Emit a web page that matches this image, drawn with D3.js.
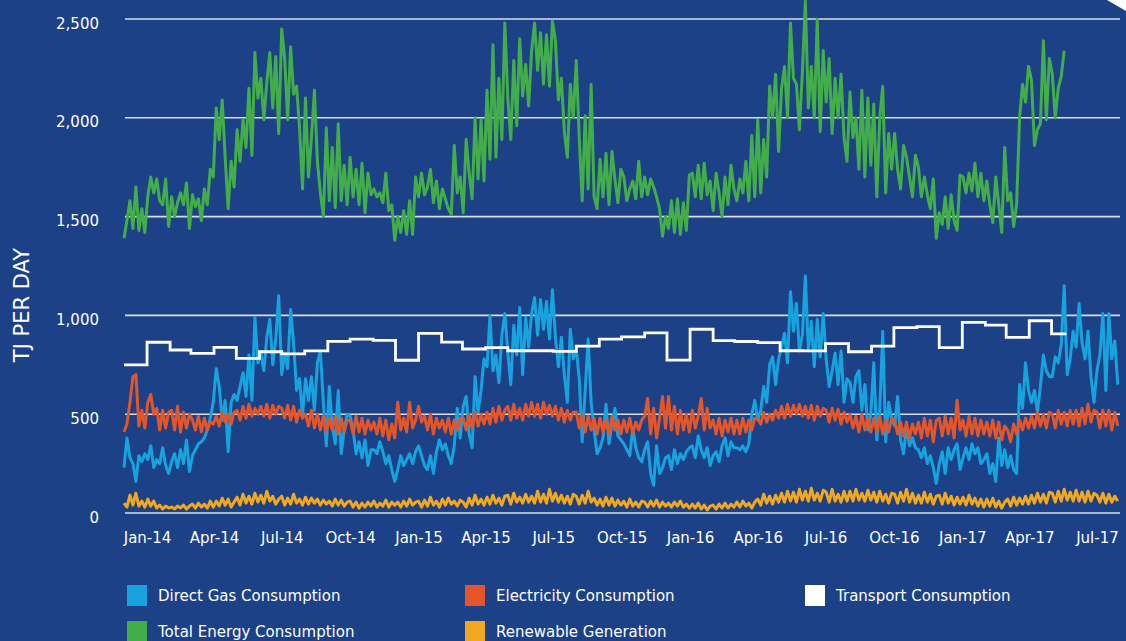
<!DOCTYPE html>
<html>
<head>
<meta charset="utf-8">
<script src="https://cdn.jsdelivr.net/npm/d3@7"></script>
<style>
  html, body { margin: 0; padding: 0; background: #1c4187; }
  svg { display: block; }
  text { font-family: "DejaVu Sans", Verdana, sans-serif; fill: #ffffff; }
</style>
</head>
<body>
<svg id="chart" width="1126" height="641"></svg>
<script>
// ---------------- DATA ----------------
// Daily series sampled every 4 days starting 1 Dec 2013 (TJ per day)
const seriesStart = "2013-12-01";
const stepDays = 4;

const totalEnergy = [
1390,1480,1580,1440,1650,1430,1540,1420,
1600,1700,1620,1690,1580,1560,1690,1450,
1600,1500,1570,1620,1560,1670,1440,
1610,1550,1590,1480,1640,1560,1740,1700,
2050,1890,2090,1800,1540,1780,1650,
1940,1780,1990,1850,2150,1810,2330,2100,
2200,1990,2180,2330,2050,2310,1920,
2450,2300,1990,2360,2120,2160,1950,1640,
2100,1700,1900,2140,1780,1620,1500,1950,
1580,1850,1545,1970,1580,1760,1560,
1800,1600,1740,1560,1770,1520,1720,1610,
1640,1600,1620,1570,1720,1530,1560,1380,
1500,1420,1530,1410,1580,1410,1700,
1600,1720,1610,1650,1740,1570,1680,1540,
1640,1590,1540,1510,1860,1620,1700,
1520,1890,1720,1590,2000,1690,1990,1680,
2140,1790,2370,1800,2200,1890,2480,
2100,1890,2290,1960,2400,2110,2270,2060,
2340,2480,2240,2430,2170,2420,2160,2490,
2390,2090,2200,1930,1800,2170,2000,
2290,1900,1580,2010,1640,2170,1600,1540,
1790,1600,1820,1560,1830,1690,1570,1740,
1700,1580,1640,1680,1590,1780,1600,
1700,1610,1690,1650,1600,1540,1400,1500,
1440,1580,1420,1590,1410,1570,1430,1710,
1720,1600,1760,1590,1770,1610,1680,
1530,1720,1620,1500,1700,1560,1760,1640,
1580,1690,1620,1780,1580,1910,1600,
1990,1620,1890,1700,2160,2000,2220,1830,
2150,2260,2000,2480,2200,2170,1940,2230,
2590,2050,2260,2000,2500,1930,2340,
2080,2300,1920,2200,2000,2220,1900,1780,
2130,1900,2000,1740,2140,1700,2100,1760,
2070,1600,2000,2160,1620,1920,1740,
1920,1740,1640,1860,1800,1700,1600,1810,
1750,1600,1700,1610,1540,1690,1390,
1520,1460,1600,1440,1610,1480,1430,1710,
1700,1620,1720,1630,1770,1600,1720,1580,
1680,1560,1470,1700,1560,1420,1850,
1580,1620,1450,1560,2000,2170,2080,2260,
2190,1860,1940,1970,2390,1990,2300,
2220,2000,2150,2210,2340
];

const directGas = [
230,380,280,250,160,290,260,300,
270,340,230,270,250,330,240,200,
260,300,230,320,250,370,210,
290,320,350,360,380,420,480,560,
730,640,470,570,310,560,600,
570,640,710,590,800,570,990,760,
810,720,890,980,750,880,1100,
700,810,730,1030,860,620,680,490,
680,570,690,520,760,820,560,340,
640,440,350,620,300,420,500,
490,420,300,360,280,370,240,320,
320,300,360,310,250,290,220,160,
220,290,240,270,300,250,310,
340,290,240,220,290,200,310,370,
320,350,290,250,340,530,380,
540,590,400,330,690,510,620,780,
740,1000,720,800,660,900,1010,
810,650,950,800,1040,700,990,840,
1010,1090,900,1080,930,1070,880,1130,
890,740,890,700,560,930,780,
830,680,360,620,880,560,420,300,
330,380,550,350,450,530,390,370,
350,320,290,430,330,280,260,
320,360,200,140,340,200,230,280,
290,220,320,250,300,270,310,330,
340,280,390,320,280,330,240,
290,310,260,340,380,290,360,330,
330,320,340,310,350,500,570,
470,520,640,560,750,790,650,780,
840,910,760,1120,920,1060,820,900,
1200,820,970,740,980,790,1010,
780,640,720,810,650,820,560,680,
660,560,690,720,520,650,420,500,
760,370,520,920,360,560,480,
440,590,370,300,440,340,380,330,
320,280,330,250,290,230,150,
250,310,200,330,270,320,350,220,
280,330,270,350,300,330,250,270,
300,200,250,160,380,240,320,
230,290,220,200,650,530,760,620,
560,620,510,640,800,720,690,
690,790,760,850,1150,700,780,920,
840,1060,860,780,920,690,560,
720,800,1010,620,1010,780,870,650
];

const electricity = [
410,450,560,690,700,440,520,430,
560,600,500,530,420,520,430,510,
520,420,540,410,510,430,500,
470,420,490,410,480,420,460,450,
490,440,510,460,500,450,510,
520,470,540,480,550,490,530,500,
540,490,550,480,545,500,540,
530,480,545,470,540,460,520,480,
500,440,520,430,500,420,490,410,
480,420,490,400,480,410,470,
470,400,490,410,480,400,470,420,
460,400,480,390,470,370,450,380,
560,420,480,410,560,430,470,
540,460,490,420,500,400,480,430,
470,410,480,400,470,420,480,
480,420,500,430,510,440,500,450,
510,450,530,460,540,470,520,
540,470,550,480,530,470,550,490,
560,490,550,480,560,500,545,490,
540,470,530,460,520,470,510,
510,430,500,410,490,420,480,400,
480,410,470,400,490,420,470,400,
470,410,480,400,460,420,470,
490,580,400,530,380,480,590,430,
590,420,540,400,520,420,500,410,
520,430,490,580,420,530,430,
470,400,480,390,470,410,480,400,
470,400,480,410,470,420,480,
480,450,510,460,500,470,520,480,
540,480,550,490,545,500,550,490,
540,480,545,470,540,490,530,
520,460,530,470,525,450,510,460,
500,430,490,410,500,420,480,410,
480,410,490,400,470,410,480,
470,400,460,390,460,380,450,400,
460,380,480,390,470,360,470,
480,390,490,400,480,380,570,420,
470,390,490,400,480,390,470,400,
460,390,470,380,460,370,440,
420,360,450,400,470,420,480,430,
490,430,510,440,500,430,510,
500,430,520,450,510,440,520,450,
520,440,530,450,550,460,520,
510,430,520,440,520,420,510,440
];

const renewable = [
50,30,90,40,100,35,60,30,
70,35,60,25,40,20,35,25,
30,20,35,25,40,20,35,
45,25,50,30,45,25,60,30,
60,35,75,40,70,30,55,
80,40,95,50,85,45,100,55,
90,50,110,60,85,45,70,
85,40,75,45,95,50,70,40,
80,45,75,50,70,40,65,45,
60,35,70,40,65,35,55,
60,30,55,25,50,30,55,35,
60,30,50,35,65,30,55,40,
55,30,60,35,70,40,55,
60,30,65,35,80,40,60,30,
70,40,75,45,60,35,65,
55,30,75,40,90,45,70,40,
80,45,90,50,75,40,85,
90,45,100,55,80,50,95,55,
85,50,110,55,95,50,120,60,
100,55,90,50,85,45,95,
85,45,90,50,110,55,75,40,
70,35,80,40,75,35,65,40,
60,30,70,35,55,30,60,
55,30,60,35,65,30,55,35,
50,30,55,35,60,30,45,25,
45,25,50,20,40,15,35,
40,20,45,25,50,25,45,30,
55,30,60,35,50,25,55,
70,40,95,50,85,45,90,55,
100,55,110,60,105,55,120,65,
110,60,125,65,100,60,115,
105,55,120,60,95,55,110,60,
110,60,120,65,100,60,115,65,
105,55,110,60,95,50,100,
95,50,105,60,120,55,100,50,
90,50,105,55,95,45,85,
90,45,100,50,85,40,80,45,
80,40,90,45,75,35,70,30,
70,35,75,30,60,25,55,
70,35,80,40,75,45,85,45,
90,50,100,55,95,50,105,
100,55,110,60,120,65,105,60,
115,60,105,55,110,60,100,
90,55,100,50,95,55,85,60
];

// Transport consumption: monthly step values
const transportMonths = [
"2013-12","2014-01","2014-02","2014-03","2014-04","2014-05","2014-06","2014-07","2014-08","2014-09","2014-10","2014-11",
"2014-12","2015-01","2015-02","2015-03","2015-04","2015-05","2015-06","2015-07","2015-08","2015-09","2015-10","2015-11",
"2015-12","2016-01","2016-02","2016-03","2016-04","2016-05","2016-06","2016-07","2016-08","2016-09","2016-10","2016-11",
"2016-12","2017-01","2017-02","2017-03","2017-04","2017-05"
];
const transport = [
750,864,825,808,838,783,816,805,820,869,880,874,
773,909,865,830,837,821,821,818,845,880,891,912,
774,930,872,868,862,821,820,857,816,845,938,943,
837,965,951,889,973,907
];
const transportEnd = "2017-05-21";

const xTickDates = ["2014-01","2014-04","2014-07","2014-10","2015-01","2015-04","2015-07","2015-10",
                    "2016-01","2016-04","2016-07","2016-10","2017-01","2017-04","2017-07"];
const yTicks = [0, 500, 1000, 1500, 2000, 2500];

const legendNames = ["Direct Gas Consumption","Electricity Consumption","Transport Consumption",
                     "Total Energy Consumption","Renewable Generation"];
const legendColors = ["#17a3de","#e4552a","#ffffff","#43ad49","#f2a81e"];

// ---------------- CHART ----------------
const svg = d3.select("#chart");
const W = 1126, H = 641;
const plot = {left: 124, right: 1120, top: 19, bottom: 513};

svg.append("rect").attr("width", W).attr("height", H).attr("fill", "#1c4187");

const parseDay = d3.utcParse("%Y-%m-%d");
const parseMonth = d3.utcParse("%Y-%m");

const x = d3.scaleUtc()
  .domain([parseDay("2013-12-01"), parseDay("2017-08-01")])
  .range([plot.left, plot.right]);
const y = d3.scaleLinear().domain([0, 2500]).range([plot.bottom, plot.top]);

// gridlines
svg.append("g").selectAll("line").data(yTicks).join("line")
  .attr("x1", plot.left + 1).attr("x2", plot.right)
  .attr("y1", d => y(d)).attr("y2", d => y(d))
  .attr("stroke", "#d9dee9").attr("stroke-width", 1.6);

// y axis labels
const yAxis = svg.append("g").attr("transform", `translate(${plot.left},0)`)
  .call(d3.axisLeft(y).tickValues(yTicks).tickFormat(d3.format(",")).tickSize(0).tickPadding(25));
yAxis.select(".domain").remove();
yAxis.selectAll("text").attr("font-size", 15).attr("dy", "0.6em")
  .style("font-family", '"DejaVu Sans", Verdana, sans-serif').attr("fill", "#ffffff");

// x axis labels
const xAxis = svg.append("g").attr("transform", `translate(0,${plot.bottom})`)
  .call(d3.axisBottom(x).tickValues(xTickDates.map(parseMonth))
    .tickFormat(d3.utcFormat("%b-%y")).tickSize(0).tickPadding(19));
xAxis.select(".domain").remove();
xAxis.selectAll("text").attr("font-size", 15)
  .style("font-family", '"DejaVu Sans", Verdana, sans-serif').attr("fill", "#ffffff");

// y title
svg.append("text").attr("transform", "translate(29,305) rotate(-90)")
  .attr("text-anchor", "middle").attr("font-size", 21).text("TJ PER DAY");

// series
const start = parseDay(seriesStart);
const toPoints = arr => arr.map((v, i) => ({date: d3.utcDay.offset(start, i * stepDays), v}));
const line = d3.line().x(d => x(d.date)).y(d => y(d.v));

function drawSeries(arr, color, width) {
  svg.append("path").datum(toPoints(arr))
    .attr("fill", "none").attr("stroke", color).attr("stroke-width", width)
    .attr("stroke-linejoin", "round").attr("d", line);
}
drawSeries(totalEnergy, legendColors[3], 3);
drawSeries(directGas, legendColors[0], 3);
drawSeries(electricity, legendColors[1], 3);

// transport (step)
const tPts = transportMonths.map((m, i) => ({date: parseMonth(m), v: transport[i]}));
tPts.push({date: parseDay(transportEnd), v: transport[transport.length - 1]});
svg.append("path").datum(tPts)
  .attr("fill", "none").attr("stroke", legendColors[2]).attr("stroke-width", 2.8)
  .attr("d", d3.line().curve(d3.curveStepAfter).x(d => x(d.date)).y(d => y(d.v)));

drawSeries(renewable, legendColors[4], 3);

// legend
const legCols = [127, 465, 805];
const legRows = [595, 631];
legendNames.forEach((name, i) => {
  const cx = legCols[i % 3], cy = legRows[Math.floor(i / 3)];
  const g = svg.append("g");
  g.append("rect").attr("x", cx).attr("y", cy - 10).attr("width", 20).attr("height", 21)
    .attr("fill", legendColors[i]);
  g.append("text").attr("x", cx + 31).attr("y", cy + 6).attr("font-size", 15).text(name);
});

// corner decoration
svg.append("path").attr("d", "M1107,0 L1126,0 L1126,11 Z").attr("fill", "#ffffff");
</script>
</body>
</html>
